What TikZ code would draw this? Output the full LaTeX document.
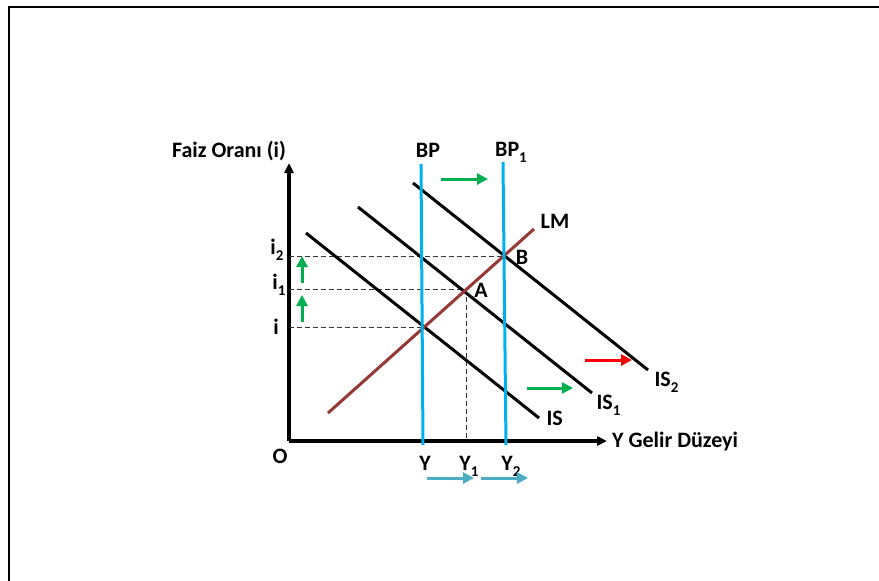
\documentclass[tikz,border=0pt]{standalone}
\usepackage{fontspec}
\setmainfont{Carlito}
\usetikzlibrary{arrows.meta,positioning}
\definecolor{bpblue}{RGB}{0,176,240}
\definecolor{shiftgreen}{RGB}{0,176,80}
\definecolor{lmbrown}{RGB}{150,55,53}
\definecolor{incomeblue}{RGB}{75,172,198}
\newcommand{\lowidx}[1]{\raisebox{-0.55ex}{\fontsize{15}{15}\selectfont #1}}

\begin{document}
\begin{tikzpicture}[x=1pt, y=-1pt,
    every node/.style={font=\fontsize{22}{26}\selectfont\bfseries, inner sep=1pt},
    axis/.style={line width=3.2pt, -{Triangle[length=10pt, width=9pt]}},
    curve/.style={line width=3pt},
    guide/.style={dash pattern=on 5pt off 3pt, line width=0.9pt, black!80},
    shiftarrow/.style={line width=3pt, -{Triangle[length=11pt, width=11pt]}}]
  \useasboundingbox (0,0) rectangle (879,581);
  % frame
  \draw[line width=2pt] (9,581) -- (9,7) -- (879,7);
  % axes
  \coordinate (O) at (289,441);
  \coordinate (ytop) at (289,163);
  \coordinate (xend) at (607,441);
  \draw[axis] (O) -- (ytop);
  \draw[axis] (O) -- (xend);
  \node (ylab) at (229,151) {Faiz Oranı (i)};
  \node[anchor=west] (xlab) at (611,442) {Y Gelir Düzeyi};
  \node (olab) at (280,456) {O};
  % equilibrium points
  \coordinate (E) at (422,327);
  \coordinate (A) at (466,289);
  \coordinate (B) at (503,256);
  \coordinate (Ey) at (289,327);
  \coordinate (Ay) at (289,289);
  \coordinate (By) at (289,256);
  \coordinate (Ax) at (466,441);
  \draw[guide] (Ey) -- (E);
  \draw[guide] (Ay) -- (A);
  \draw[guide] (By) -- (B);
  \draw[guide] (A) -- (Ax);
  % IS curves
  \draw[curve] (306,233) -- (539,418) node[right=5pt] (islab) {IS};
  \draw[curve] (358,207) -- (592,393) node[below right=0pt and 2pt] (is1lab) {IS\lowidx{1}};
  \draw[curve] (413,183) -- (648,370) node[below right=0pt and 4pt] (is2lab) {IS\lowidx{2}};
  % LM
  \draw[curve, lmbrown] (328,413) -- (534,229);
  \node (lmlab) at (555,221) {LM};
  % BP lines
  \draw[curve, bpblue] (421,164) -- (423,445);
  \draw[curve, bpblue] (503,162) -- (506,445);
  \node (bplab) at (428,150) {BP};
  \node (bp1lab) at (511,152) {BP\lowidx{1}};
  % point labels
  \node (alab) at (481,290) {A};
  \node (blab) at (522,257) {B};
  \node (ilab) at (276,327) {i};
  \node (i1lab) at (279,285) {i\lowidx{1}};
  \node (i2lab) at (277,250) {i\lowidx{2}};
  \node (ylow) at (425,463) {Y};
  \node (y1lab) at (469,466) {Y\lowidx{1}};
  \node (y2lab) at (511,466) {Y\lowidx{2}};
  % shifts
  \coordinate (bps) at (441,179);
  \coordinate (bpe) at (488,179);
  \draw[shiftarrow, shiftgreen] (bps) -- (bpe);
  \coordinate (iss) at (527,388);
  \coordinate (ise) at (573,388);
  \draw[shiftarrow, shiftgreen] (iss) -- (ise);
  \coordinate (is2s) at (585,360);
  \coordinate (is2e) at (632,360);
  \draw[shiftarrow, red] (is2s) -- (is2e);
  \coordinate (ups1) at (302,283);
  \coordinate (upe1) at (302,256);
  \draw[shiftarrow, shiftgreen] (ups1) -- (upe1);
  \coordinate (ups2) at (302,322);
  \coordinate (upe2) at (302,295);
  \draw[shiftarrow, shiftgreen] (ups2) -- (upe2);
  \coordinate (ys1) at (427,478);
  \coordinate (ye1) at (474,478);
  \draw[shiftarrow, incomeblue] (ys1) -- (ye1);
  \coordinate (ys2) at (481,478);
  \coordinate (ye2) at (528,478);
  \draw[shiftarrow, incomeblue] (ys2) -- (ye2);
\end{tikzpicture}
\end{document}
